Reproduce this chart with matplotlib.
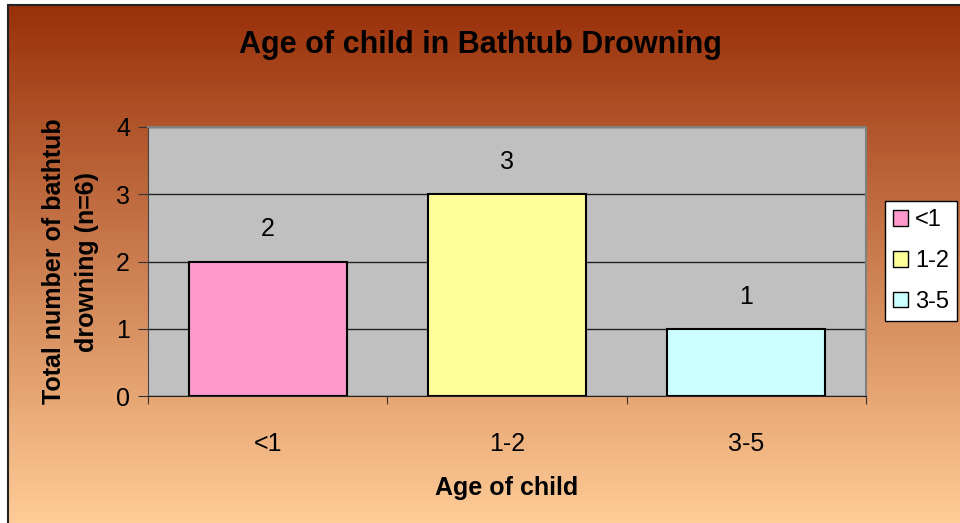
import numpy as np
import matplotlib.pyplot as plt
from matplotlib.patches import Rectangle, Patch
from matplotlib.ticker import FixedLocator

categories = ["<1", "1-2", "3-5"]
counts = [2, 3, 1]
bar_colors = ["#FF99CC", "#FFFF99", "#CCFFFF"]

plt.rcParams['font.family'] = ['Liberation Sans', 'DejaVu Sans']

W, H = 960, 523
fig = plt.figure(figsize=(W / 100, H / 100), dpi=100)
fig.patch.set_facecolor("white")

# background gradient, dark rust at top to peach at bottom
bg = fig.add_axes([8 / W, 0, 1 - 8 / W, 1 - 5 / H])
top = np.array([0.60, 0.19, 0.04])
bot = np.array([1.00, 0.80, 0.59])
t = np.linspace(0, 1, 256)[:, None]
grad = top + (bot - top) * t
bg.imshow(grad[:, None, :], aspect="auto", extent=[0, 1, 0, 1])
bg.set_axis_off()
fig.add_artist(Rectangle((8 / W, -0.1), 1.2, 1 - 5 / H + 0.1, transform=fig.transFigure,
                         fill=False, edgecolor="#222222", linewidth=1.5))

ax = fig.add_axes([148 / W, 1 - 396 / H, (866 - 148) / W, (396 - 127) / H])
ax.set_facecolor("#C0C0C0")

x = np.arange(len(categories))
bars = ax.bar(x, counts, width=0.66, color=bar_colors, edgecolor="black", linewidth=1.5, zorder=3)
for xi, v in zip(x, counts):
    ax.text(xi, v + 0.3, str(v), ha="center", va="bottom", fontsize=18)

ax.set_xlim(-0.5, 2.5)
ax.set_ylim(0, 4)
ax.set_yticks([0, 1, 2, 3, 4])
ax.yaxis.grid(True, color="#222222", linewidth=1)
ax.set_axisbelow(True)

ax.xaxis.set_major_locator(FixedLocator([-0.5, 0.5, 1.5, 2.5]))
ax.xaxis.set_minor_locator(FixedLocator(x))
ax.set_xticklabels([])
ax.set_xticklabels(categories, minor=True)
ax.tick_params(axis="x", which="major", direction="out", length=6, color="#333333")
ax.tick_params(axis="x", which="minor", length=0, labelsize=18, pad=26)
ax.tick_params(axis="y", direction="out", length=7, labelsize=18, pad=6, color="#333333")

for side in ["top", "right"]:
    ax.spines[side].set_color("#808080")
    ax.spines[side].set_linewidth(1.5)
ax.spines["left"].set_color("#444444")
ax.spines["bottom"].set_color("#222222")

ax.set_xlabel("Age of child", fontsize=18, fontweight="bold", labelpad=14)
ax.set_ylabel("Total number of bathtub\ndrowning (n=6)", fontsize=18, fontweight="bold",
              labelpad=12, linespacing=1.5)

fig.text(0.5, 1 - 45 / H, "Age of child in Bathtub Drowning", ha="center", va="center",
         fontsize=22, fontweight="bold")

handles = [Patch(facecolor=c, edgecolor="black", label=l) for c, l in zip(bar_colors, categories)]
leg = fig.legend(handles=handles, loc="center", bbox_to_anchor=(921 / W, 1 - 261 / H),
                 fontsize=17, frameon=True, fancybox=False, framealpha=1,
                 handlelength=0.65, handleheight=0.65,
                 handletextpad=0.3, labelspacing=0.8, borderpad=0.35, borderaxespad=0)
leg.get_frame().set_edgecolor("black")
leg.get_frame().set_facecolor("white")
leg.get_frame().set_linewidth(1)

fig.savefig("out.png", dpi=100)
